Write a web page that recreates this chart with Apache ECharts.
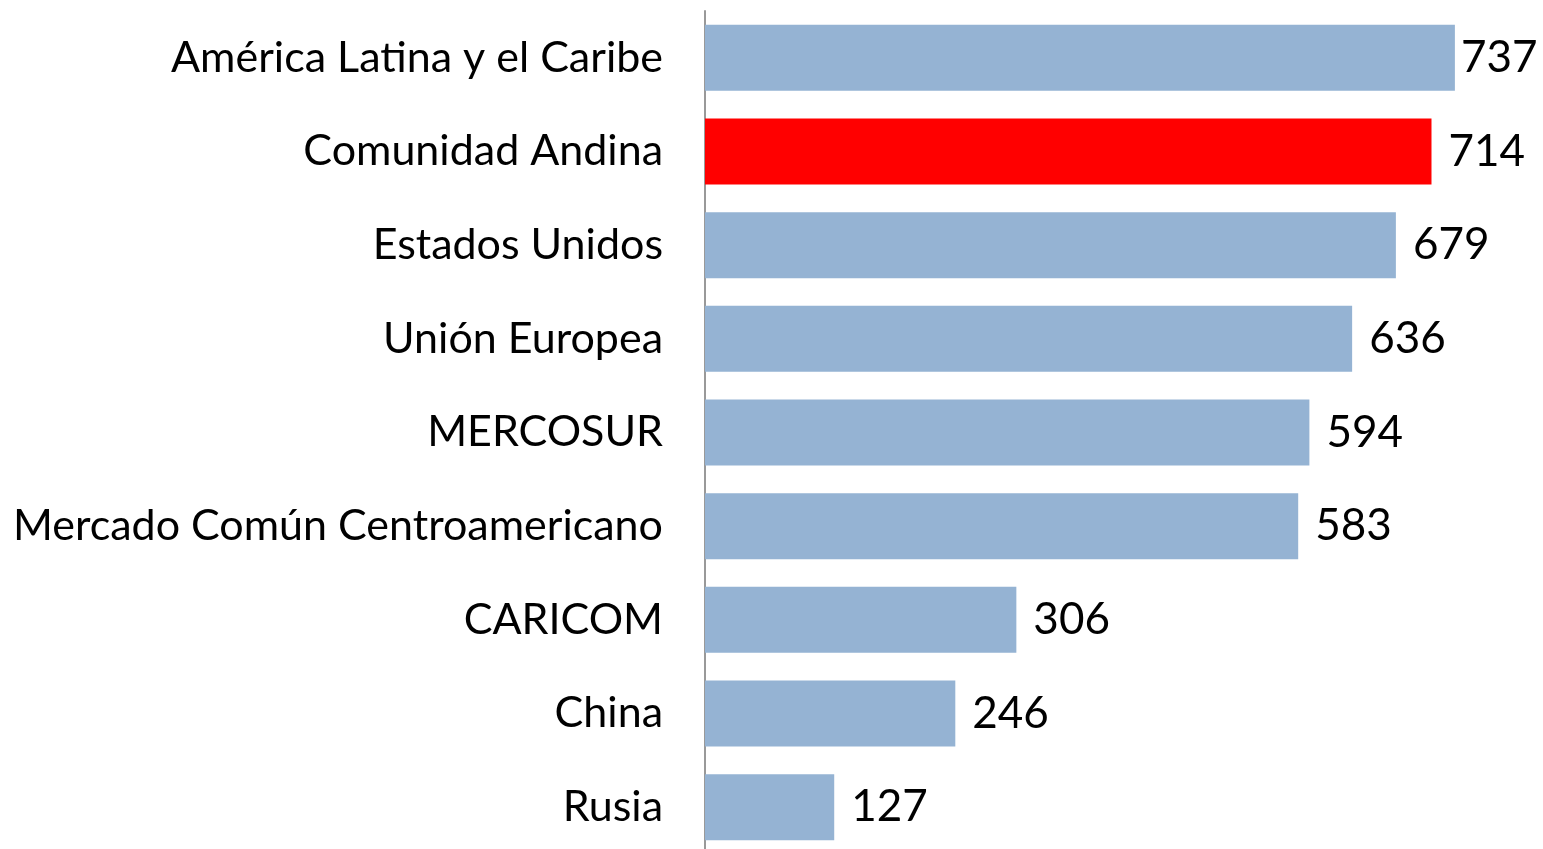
<!DOCTYPE html>
<html>
  <head>
    <meta charset="UTF-8">
    <title>Bloques</title>
    <script src="https://cdn.jsdelivr.net/npm/echarts@6/dist/echarts.min.js"></script>
    <style>
      html, body { margin: 0; padding: 0; background: #fff; overflow: hidden; }
      /* el grafico original se corta un poco por abajo */
      #main { width: 1543px; height: 854px; }
    </style>
  </head>
  <body>
    <div id="main"></div>
    <script>
      // categorias (de arriba hacia abajo) y valores
      var categories = ['América Latina y el Caribe', 'Comunidad Andina', 'Estados Unidos', 'Unión Europea',
        'MERCOSUR', 'Mercado Común Centroamericano', 'CARICOM', 'China', 'Rusia'];
      var values = [737, 714, 679, 636, 594, 583, 306, 246, 127];
      var highlight = 'Comunidad Andina';

      var font = 'Lato, "DejaVu Sans", sans-serif';

      var seriesData = values.map(function (v, i) {
        var item = { value: v };
        if (categories[i] === highlight) {
          item.itemStyle = { color: '#ff0000' };
        }
        if (i === 0) {
          // la primera etiqueta queda pegada a la barra
          item.label = { distance: 6 };
        }
        return item;
      });

      var myChart = echarts.init(document.getElementById('main'));
      var option = {
        backgroundColor: '#ffffff',
        animation: false,
        grid: { left: 705, right: 24, top: 11, bottom: 0, containLabel: false },
        xAxis: {
          type: 'value',
          min: 0,
          max: 800,
          show: false
        },
        yAxis: {
          type: 'category',
          inverse: true,
          data: categories,
          axisLine: { show: true, lineStyle: { color: '#999999', width: 2 } },
          axisTick: { show: false },
          axisLabel: {
            color: '#000000',
            fontFamily: font,
            fontSize: 43,
            margin: 42,
            padding: [4, 0, 0, 0]
          }
        },
        series: [{
          type: 'bar',
          data: seriesData,
          barWidth: 66,
          itemStyle: { color: '#95b3d3' },
          label: {
            show: true,
            position: 'right',
            distance: 17,
            color: '#000000',
            fontFamily: font,
            fontSize: 44,
            padding: [4, 0, 0, 0]
          }
        }]
      };
      myChart.setOption(option);
    </script>
  </body>
</html>
